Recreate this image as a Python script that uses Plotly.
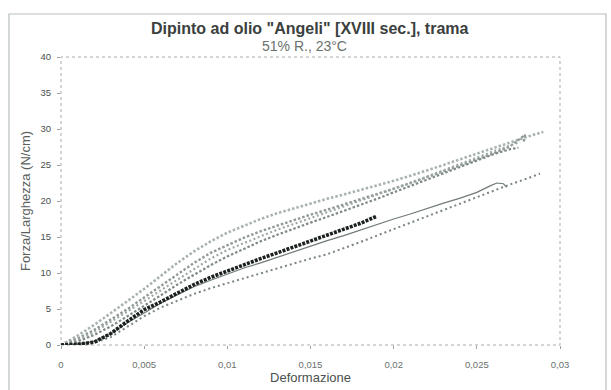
import plotly.graph_objects as go

# ---- data (strain, force/width N/cm) ----
xa = [0, .001, .002, .003, .004, .005, .006, .007, .008, .009, .010, .011, .012, .013, .014,
      .015, .016, .017, .018, .019, .020, .021, .022, .023, .024, .025, .026, .027, .028, .029]
ya = [0, 1.3, 2.8, 4.4, 6.1, 7.8, 9.6, 11.4, 13.0, 14.4, 15.6, 16.6, 17.5, 18.3, 19.0,
      19.6, 20.3, 20.9, 21.5, 22.1, 22.8, 23.5, 24.2, 25.0, 25.8, 26.6, 27.4, 28.2, 28.9, 29.6]

xb = [0, .001, .002, .003, .004, .005, .006, .007, .008, .009, .010, .011, .012, .013, .014,
      .015, .016, .017, .018, .019, .020, .021, .022, .023, .024, .025, .026, .027, .0279, .0278]
yb = [0, 0.9, 2.1, 3.5, 5.0, 6.6, 8.2, 9.9, 11.4, 12.8, 13.9, 14.9, 15.8, 16.6, 17.4,
      18.1, 18.8, 19.5, 20.2, 20.9, 21.7, 22.5, 23.3, 24.1, 24.9, 25.7, 26.6, 27.6, 29.2, 28.0]

xg = [0, .001, .002, .003, .004, .005, .006, .007, .008, .009, .010, .011, .012, .013, .014,
      .015, .016, .017, .018, .019, .020, .021, .022, .023, .024, .025, .026, .027, .0276]
yg = [0, 0.7, 1.8, 3.2, 4.6, 6.1, 7.6, 9.1, 10.6, 12.0, 13.2, 14.2, 15.1, 16.0, 16.8,
      17.6, 18.4, 19.2, 20.0, 20.8, 21.6, 22.5, 23.4, 24.3, 25.2, 26.0, 26.9, 27.7, 28.2]

xc = [0, .001, .002, .003, .004, .005, .006, .007, .008, .009, .010, .011, .012, .013, .014,
      .015, .016, .017, .018, .019, .020, .021, .022, .023, .024, .025, .026, .027, .0275]
yc = [0, 0.5, 1.4, 2.6, 4.0, 5.4, 6.9, 8.4, 9.8, 11.1, 12.3, 13.4, 14.4, 15.3, 16.2,
      17.0, 17.8, 18.6, 19.4, 20.3, 21.2, 22.1, 23.0, 23.9, 24.8, 25.7, 26.5, 27.2, 27.4]

xd = [0, .001, .002, .003, .004, .005, .006, .007, .008, .009, .010, .011, .012, .013, .014,
      .015, .016, .017, .018, .019]
yd = [0, 0.1, 0.4, 1.6, 3.3, 4.9, 6.0, 7.2, 8.4, 9.4, 10.3, 11.2, 12.0, 12.8, 13.6,
      14.4, 15.2, 16.0, 16.9, 17.9]

xe = [0, .001, .002, .003, .004, .005, .006, .007, .008, .009, .010, .011, .012, .013, .014,
      .015, .016, .017, .018, .019, .020, .021, .022, .023, .024, .025, .0258, .0262, .0266, .0268]
ye = [0, 0.1, 0.5, 1.6, 3.1, 4.5, 5.8, 7.0, 8.1, 9.0, 9.9, 10.7, 11.4, 12.2, 13.0,
      13.7, 14.5, 15.2, 16.0, 16.7, 17.5, 18.2, 19.0, 19.7, 20.4, 21.2, 22.1, 22.5, 22.4, 21.9]

xf = [0, .001, .002, .003, .004, .005, .006, .007, .008, .009, .010, .011, .012, .013, .014,
      .015, .016, .017, .018, .019, .020, .021, .022, .023, .024, .025, .026, .027, .028, .0288]
yf = [0, 0.1, 0.3, 1.1, 2.6, 4.0, 5.2, 6.2, 7.1, 7.9, 8.6, 9.3, 10.0, 10.7, 11.4,
      12.0, 12.6, 13.4, 14.3, 15.2, 16.1, 17.0, 17.8, 18.7, 19.6, 20.5, 21.4, 22.3, 23.1, 23.8]

x_ticks = [0, 0.005, 0.01, 0.015, 0.02, 0.025, 0.03]
y_ticks = [0, 5, 10, 15, 20, 25, 30, 35, 40]

title_line1 = 'Dipinto ad olio "Angeli" [XVIII sec.], trama'
title_line2 = '51% R., 23°C'
x_title = 'Deformazione'
y_title = 'Forza/Larghezza (N/cm)'

FONT = "Liberation Sans, Arial, sans-serif"

fig = go.Figure()
series = [
    (xa, ya, '#a9b3ae', 2.6, '2.5px,2px'),
    (xb, yb, '#8f9a95', 2.4, '2.5px,2px'),
    (xg, yg, '#9ea8a3', 2.2, '2px,2.5px'),
    (xc, yc, '#7f8a85', 2.2, '2.5px,2px'),
    (xf, yf, '#7a8580', 2.0, '2px,3px'),
    (xe, ye, '#6f7a75', 1.2, 'solid'),
    (xd, yd, '#1b211e', 3.6, '3px,1.2px'),
]
for x, y, col, w, dash in series:
    fig.add_trace(go.Scatter(x=x, y=y, mode='lines',
                             line=dict(color=col, width=w, dash=dash),
                             showlegend=False, hoverinfo='skip'))

fig.update_layout(
    width=611, height=390,
    margin=dict(l=61, r=51, t=57, b=45),
    paper_bgcolor='white', plot_bgcolor='white',
    separators=',.',
    font=dict(family=FONT, color='#3a403d'),
    xaxis=dict(range=[0, 0.03], tickvals=x_ticks, showgrid=False, zeroline=False,
               showline=False, ticks='outside', ticklen=3, tickcolor='#9aa29e',
               ticklabelstandoff=8, automargin=False,
               tickfont=dict(size=9.5, color='#6a716d'),
               title=dict(text=x_title, font=dict(size=13, color='#4a504d'), standoff=0)),
    yaxis=dict(range=[0, 40], tickvals=y_ticks, showgrid=False, zeroline=False,
               showline=False, ticks='outside', ticklen=3, tickcolor='#9aa29e',
               ticklabelstandoff=4, automargin=False,
               tickfont=dict(size=9.5, color='#4a504d'),
               title=dict(text=y_title, font=dict(size=13, color='#5a615d'), standoff=6)),
)

# plot area border (dotted gray) and outer chart border
fig.add_shape(type='rect', xref='paper', yref='paper', x0=0, x1=1, y0=0, y1=1,
              line=dict(color='#a5aca8', width=1, dash='dot'), layer='below')
fig.add_shape(type='rect', xref='paper', yref='paper',
              x0=(9 - 61) / 499, x1=(606 - 61) / 499,
              y0=(345 - 400) / 288, y1=(345 - 14) / 288,
              line=dict(color='#b8bfbb', width=1.2))

fig.add_annotation(text='<b>' + title_line1 + '</b>', xref='paper', yref='paper',
                   x=(310 - 61) / 499, y=(345 - 29) / 288, showarrow=False,
                   font=dict(size=16, color='#3a403d', family=FONT), xanchor='center', yanchor='middle')
fig.add_annotation(text=title_line2, xref='paper', yref='paper',
                   x=(304 - 61) / 499, y=(345 - 46) / 288, showarrow=False,
                   font=dict(size=14, color='#6a716d', family=FONT), xanchor='center', yanchor='middle')

fig.write_html("out.html")
